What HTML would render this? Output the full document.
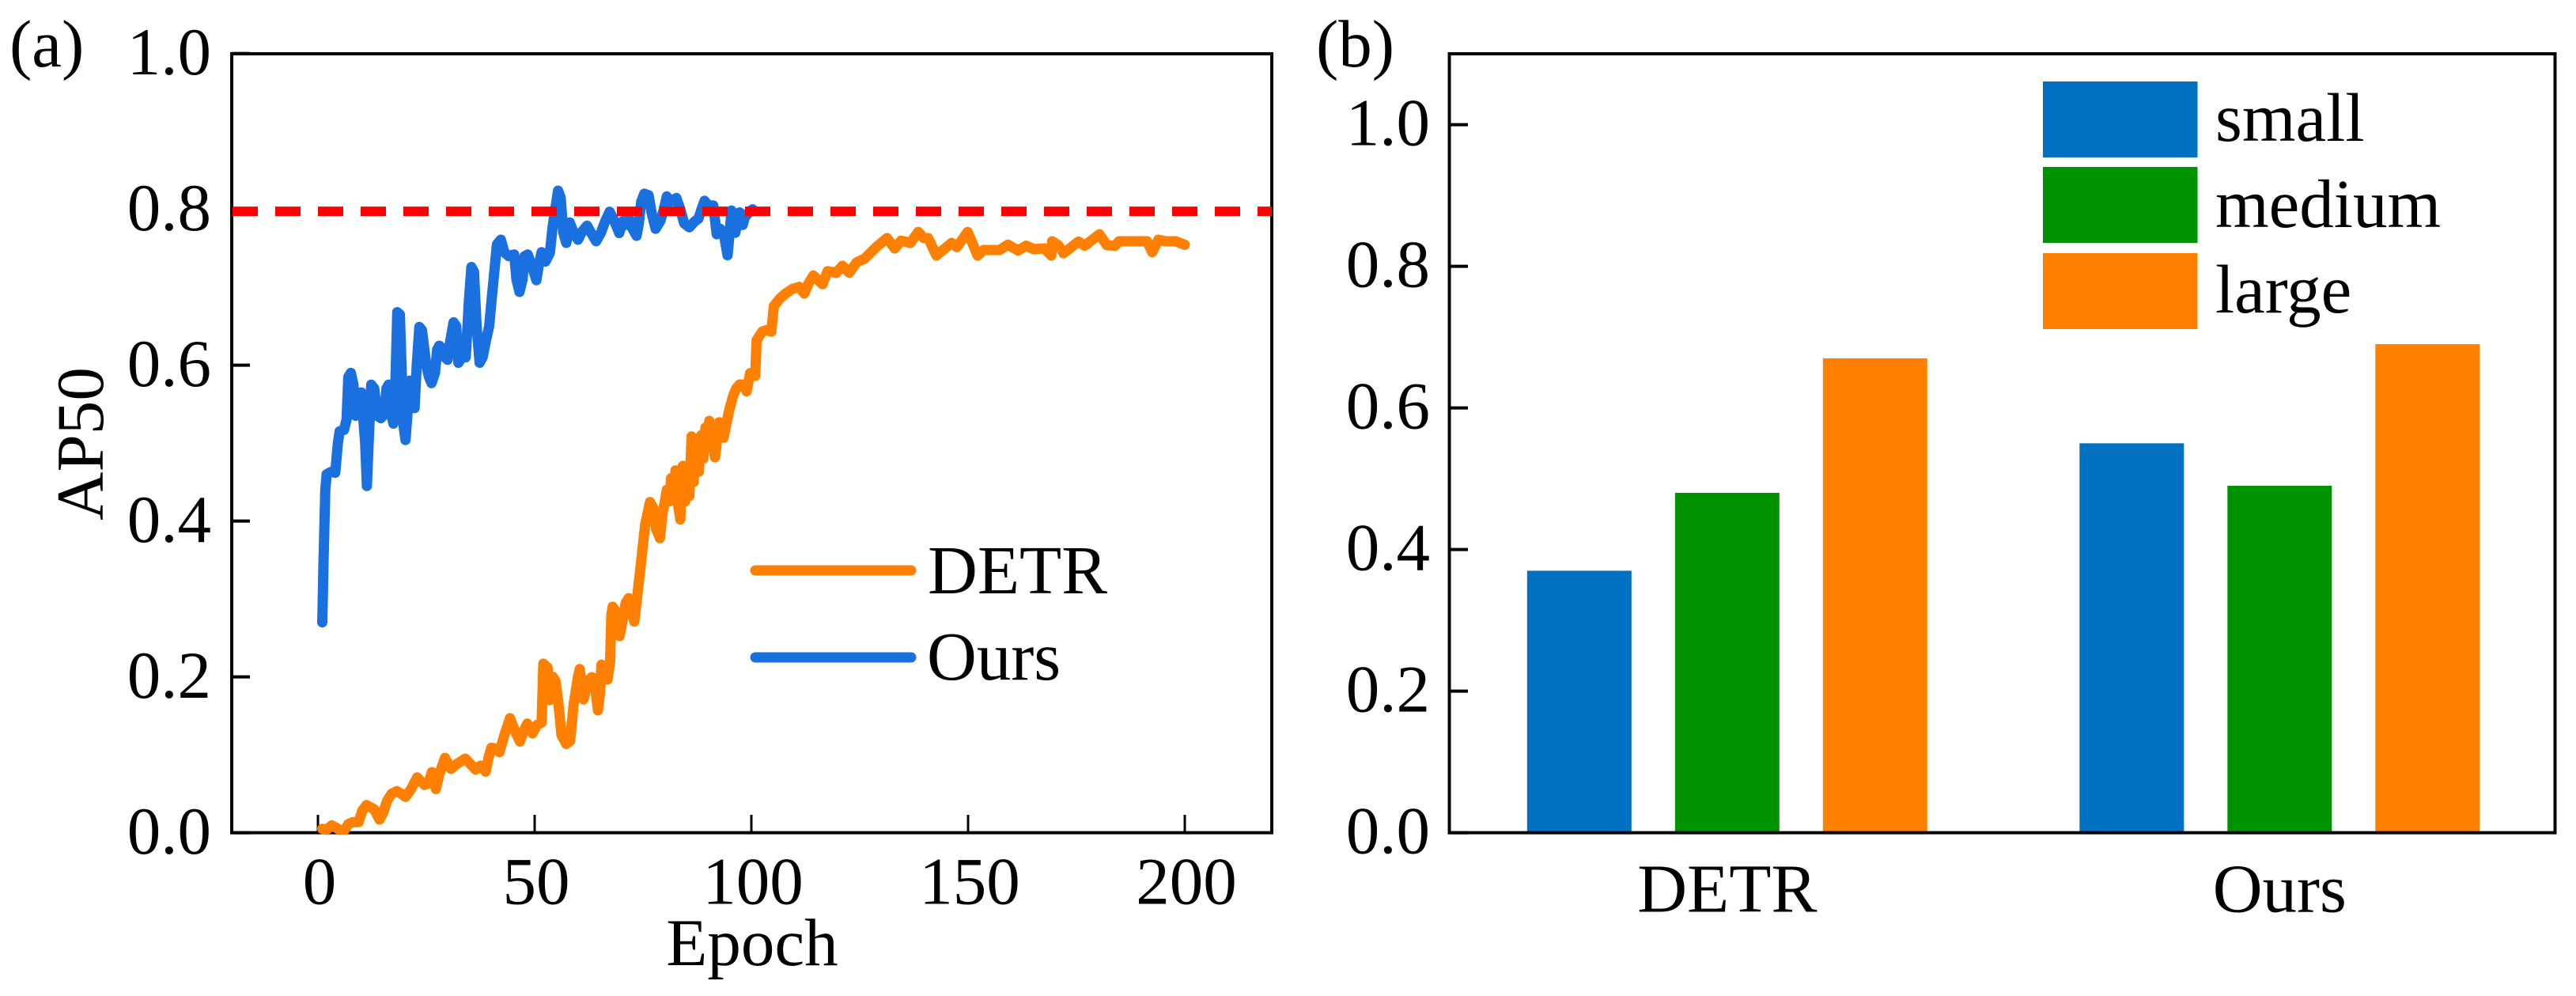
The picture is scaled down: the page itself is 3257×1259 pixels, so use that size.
<!DOCTYPE html>
<html lang="en">
<head>
<meta charset="utf-8">
<title>AP50 comparison of DETR and Ours</title>
<style>
html,body{margin:0;padding:0;background:#fff;}
svg{display:block;}
text{font-family:"Liberation Serif","Times New Roman",serif;font-size:85px;fill:#000;}
text.wide{font-size:87px;}
</style>
</head>
<body>
<svg id="figure" xmlns="http://www.w3.org/2000/svg" width="3257" height="1259" viewBox="0 0 3257 1259">
  <defs>
    <clipPath id="plot-a-clip"><rect x="293" y="68" width="1315" height="987"/></clipPath>
  </defs>
  <rect x="0" y="0" width="3257" height="1259" fill="#fff"/>
  <g id="panel-a"></g>
  <g id="panel-b"></g>
</svg>
<script>
// Panel (a) data
const detrEpochs = [1,2,3.2,4.3,5.4,6.2,7,8,9.4,10.2,11.2,12,13,14.2,15,16,17,18.2,19.2,20.2,21.5,22.9,23.8,24.6,25.5,26.3,27.2,28,29.3,30.7,32,34,35.2,36.4,37.5,38.7,39.3,40,41,41.9,43,44.3,45.5,46.6,47.4,48.3,49.5,50.5,51.6,52,53,53.4,54.2,54.8,55.4,56.2,57.3,58.2,59,60,60.4,61.3,62.3,63.2,64,64.6,65.1,65.4,66,66.8,67.4,67.7,68,68.6,69.1,69.6,70.4,71,71.7,72.3,73,73.6,74.5,75.5,76.6,77.5,78,78.9,79.5,80,80.5,81,81.5,82,82.5,83,83.6,84.2,84.7,85.2,85.7,86.2,86.7,87.2,87.9,88.4,88.9,89.4,89.8,90.3,91,91.6,92.2,92.6,93.6,94.8,95.8,96.5,97.3,98.2,98.9,99.7,100.9,101.2,102.5,103.5,104.6,105.2,106.5,107.9,109.5,111,112.2,113.2,114.3,115.3,116.4,117.6,119.6,121,122.6,124.3,126.1,128.9,131.3,133.1,134.5,136.7,138.5,139.8,140.8,142.7,146.2,147.4,149.9,152.2,153.6,157.3,159.2,161.5,163.4,165.2,167.6,169.2,169.4,170.8,172,175.5,176.9,180.3,182,183.9,184.8,191.3,192.5,193.9,195.5,197.9,200];
const detrAP50 = [.005,.004,.0094,.006,.002,.004,.011,.0135,.0137,.028,.0355,.033,.03,.017,.025,.0415,.05,.0533,.05,.046,.056,.071,.066,.0614,.063,.0778,.056,.075,.096,.082,.088,.095,.088,.081,.086,.0785,.095,.109,.108,.1035,.125,.147,.13,.117,.13,.14,.1275,.138,.1414,.217,.212,.17,.2,.195,.17,.125,.114,.118,.165,.2,.21,.171,.195,.1996,.185,.157,.18,.2155,.213,.1965,.22,.28,.29,.285,.26,.2524,.275,.295,.3008,.29,.271,.3,.345,.395,.4244,.415,.39,.378,.41,.424,.44,.425,.455,.43,.465,.425,.402,.4708,.425,.47,.432,.5085,.45,.505,.4635,.51,.48,.52,.5,.5285,.5,.4818,.51,.5268,.507,.54,.561,.57,.5752,.575,.5664,.5898,.5864,.632,.643,.645,.643,.676,.685,.692,.698,.7004,.692,.705,.715,.71,.704,.7207,.7186,.7275,.7187,.732,.7367,.752,.763,.7498,.7597,.757,.771,.763,.763,.7407,.757,.7515,.771,.7407,.7478,.7478,.7546,.7472,.7533,.7488,.7498,.7407,.759,.754,.7437,.7586,.7533,.768,.754,.7533,.759,.759,.745,.761,.759,.759,.7545];
const oursEpochs = [1,1.3,1.7,2,3,4,4.6,5,6,6.6,7,7.6,8.2,8.7,9.3,10,10.9,11.3,11.7,12.3,13,13.7,14.5,15,15.4,15.8,16.3,16.8,17.4,17.8,18.3,18.9,19.4,19.8,20.2,20.7,21.2,21.8,22.3,22.8,23.4,24,25,25.6,26.2,27,27.5,28,28.6,29.3,29.9,30.5,31.3,31.9,32.4,33,33.5,34.1,34.8,35.4,36,36.6,37.3,38,38.7,39.5,40,40.7,41.3,42.2,43,44,44.6,45.3,45.8,46.5,47.2,47.7,48.4,49.2,50.4,51,51.6,52.5,53.5,54.2,55.4,56,56.6,57.3,58.1,59,60,61,62.1,63,64.2,65.3,66.3,67.3,68.4,69.5,70.4,71,71.7,72.6,73.5,74,74.6,75.3,76.3,77,77.9,79,79.8,80.5,81.5,82.7,83.6,84.5,85.7,87,87.8,88.5,89.2,90,91.2,92,92.8,93.6,94.5,95,95.4,96.3,97.3,98,98.5,99.3,100.3];
const oursAP50 = [.27,.35,.44,.46,.463,.462,.5,.515,.517,.53,.585,.59,.575,.535,.555,.565,.5,.445,.5,.575,.57,.535,.532,.535,.545,.57,.575,.54,.525,.56,.668,.665,.58,.52,.504,.54,.58,.58,.545,.6,.649,.645,.6,.585,.577,.59,.62,.625,.622,.61,.607,.63,.655,.65,.603,.608,.63,.61,.68,.726,.72,.65,.603,.61,.63,.65,.68,.72,.755,.761,.745,.74,.741,.742,.71,.694,.71,.74,.742,.73,.709,.73,.745,.733,.744,.78,.824,.815,.77,.757,.783,.77,.761,.772,.779,.77,.759,.77,.785,.797,.785,.7695,.785,.78,.79,.775,.766,.78,.81,.82,.818,.795,.775,.785,.8,.8165,.81,.8145,.8,.782,.777,.785,.788,.8,.811,.805,.805,.768,.775,.77,.741,.77,.7985,.77,.796,.78,.79,.795,.8];
const referenceAP50 = 0.7975;
const xTicksA = [0,50,100,150,200];
const yTicksA = ["0.0","0.2","0.4","0.6","0.8","1.0"];

// Panel (b) data
const barCategories = ["DETR","Ours"];
const barSizes = ["small","medium","large"];
const smallValues = [0.37,0.55];
const mediumValues = [0.48,0.49];
const largeValues = [0.67,0.69];
const yTicksB = ["0.0","0.2","0.4","0.6","0.8","1.0"];

const NS = "http://www.w3.org/2000/svg";
const ORANGE_LINE = "#ff8000", BLUE_LINE = "#1b70e0";
const BAR_COLORS = ["#0070c0","#009300","#ff8000"];

function xA(e){ return 402 + 5.48 * e; }
function yA(v){ return 1052.6 - 985 * v; }
function xB(i){ return 2183.8 + 698.5 * i; }
function yB(v){ return 1052.6 - 895 * v; }

function make(tag, attrs, parent, content){
  const el = document.createElementNS(NS, tag);
  for (const k in attrs) el.setAttribute(k, attrs[k]);
  if (content !== undefined) el.textContent = content;
  parent.appendChild(el);
  return el;
}
function pathOf(xs, ys){
  return xs.map((x, i) => (i ? "L" : "M") + xA(x).toFixed(1) + " " + yA(ys[i]).toFixed(1)).join("");
}

const a = document.getElementById("panel-a");
const b = document.getElementById("panel-b");
let el;

// ---- Panel (a) ----
el = make("text", {x: 12, y: 84}, a, "(a)");



el = make("rect", {x: 293, y: 68, width: 1315, height: 984.6, fill: "none", stroke: "#000", "stroke-width": 4}, a);



yTicksA.forEach(label => {
  const y = yA(parseFloat(label));
  const t = make("line", {x1: 293, x2: 316, y1: y, y2: y, stroke: "#000", "stroke-width": 4}, a);
  
  
  const l = make("text", {x: 267, y: y + 26.5, "text-anchor": "end"}, a, label);
  
  
});
xTicksA.forEach(v => {
  const x = xA(v);
  const t = make("line", {x1: x, x2: x, y1: 1052.6, y2: 1030, stroke: "#000", "stroke-width": 3}, a);
  
  
  const l = make("text", {x: x + 2, y: 1142.5, "text-anchor": "middle"}, a, String(v));
  
  
});

el = make("text", {x: 951, y: 1220, "text-anchor": "middle"}, a, "Epoch");



el = make("text", {x: 0, y: 0, "text-anchor": "middle", transform: "translate(130 561) rotate(-90)"}, a, "AP50");



const plotA = make("g", {"clip-path": "url(#plot-a-clip)"}, a);



el = make("path", {d: pathOf(detrEpochs, detrAP50), fill: "none", stroke: ORANGE_LINE, "stroke-width": 13, "stroke-linejoin": "round", "stroke-linecap": "round"}, plotA);



el = make("path", {d: pathOf(oursEpochs, oursAP50), fill: "none", stroke: BLUE_LINE, "stroke-width": 13, "stroke-linejoin": "round", "stroke-linecap": "round"}, plotA);



el = make("line", {x1: 294, x2: 1608, y1: yA(referenceAP50), y2: yA(referenceAP50), stroke: "#ff0000", "stroke-width": 12, "stroke-dasharray": "32 22"}, plotA);



el = make("line", {x1: 955, x2: 1152, y1: 721, y2: 721, stroke: ORANGE_LINE, "stroke-width": 13, "stroke-linecap": "round"}, a);


el = make("text", {x: 1173, y: 750, class: "wide"}, a, "DETR");


el = make("line", {x1: 955, x2: 1152, y1: 831, y2: 831, stroke: BLUE_LINE, "stroke-width": 13, "stroke-linecap": "round"}, a);


el = make("text", {x: 1172, y: 859, class: "wide"}, a, "Ours");



// ---- Panel (b) ----
el = make("text", {x: 1664, y: 84}, b, "(b)");



const seriesB = [smallValues, mediumValues, largeValues];
seriesB.forEach((vals, s) => {
  vals.forEach((v, i) => {
    const cx = xB(i) + (s - 1) * 187;
    const r = make("rect", {x: cx - 66, y: yB(v), width: 132, height: yB(0) - yB(v), fill: BAR_COLORS[s]}, b);
    
    
  });
});

el = make("rect", {x: 1832.5, y: 68, width: 1398, height: 984.6, fill: "none", stroke: "#000", "stroke-width": 4}, b);



yTicksB.forEach(label => {
  const y = yB(parseFloat(label));
  const t = make("line", {x1: 1832.5, x2: 1856, y1: y, y2: y, stroke: "#000", "stroke-width": 4}, b);
  
  
  const l = make("text", {x: 1808, y: y + 26, "text-anchor": "end"}, b, label);
  
  
});
barCategories.forEach((c, i) => {
  const l = make("text", {x: xB(i), y: 1152.5, "text-anchor": "middle", class: "wide"}, b, c);
  
  
});

const swatchTops = [103, 211, 320];
const swatchBaselines = [178, 287, 395];
barSizes.forEach((name, s) => {
  const r = make("rect", {x: 2583, y: swatchTops[s], width: 195.5, height: 96, fill: BAR_COLORS[s]}, b);
  
  
  const l = make("text", {x: 2801, y: swatchBaselines[s], class: "wide"}, b, name);
  
  
});
</script>
</body>
</html>
